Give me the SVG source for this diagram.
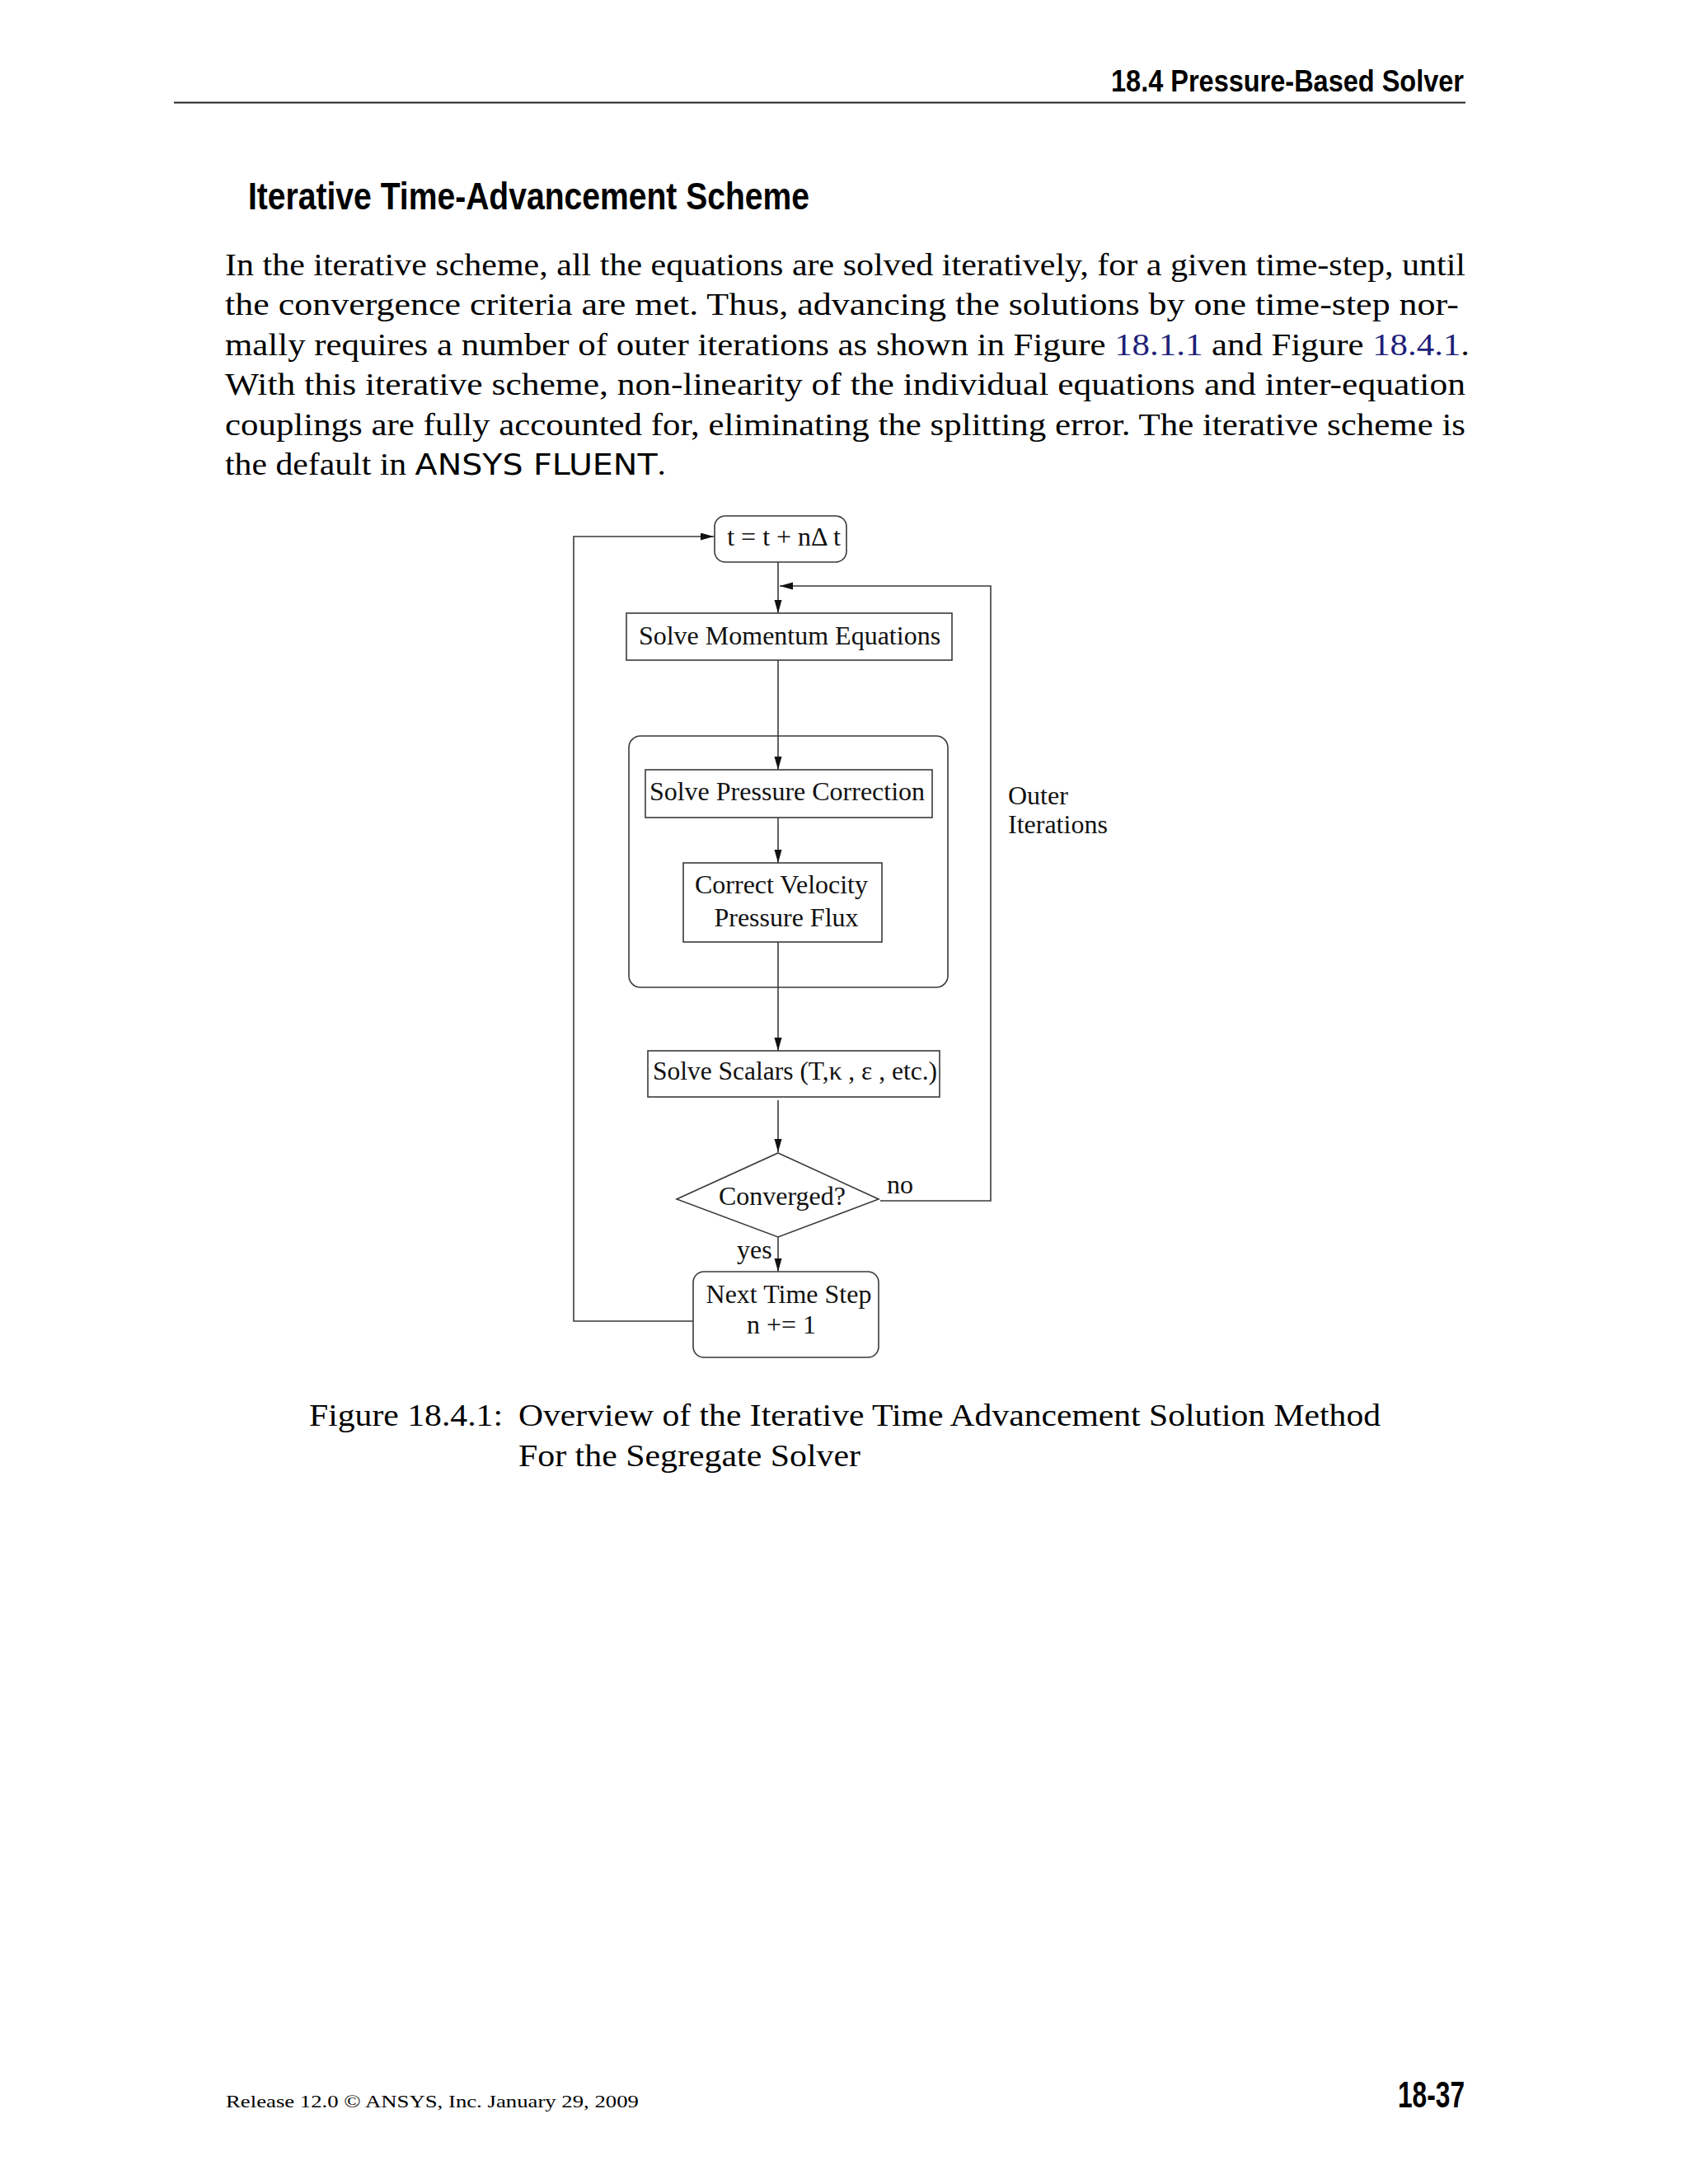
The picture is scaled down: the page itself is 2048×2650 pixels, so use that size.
<svg xmlns="http://www.w3.org/2000/svg" width="2048" height="2650" viewBox="0 0 2048 2650">
<style>
.bg{fill:#ffffff}
.hdr{font-family:"Liberation Sans",Arial,sans-serif;font-weight:bold;fill:#000}
.body{font-family:"Liberation Serif","Times New Roman",serif;font-size:38px;fill:#000}
.sans{font-family:"DejaVu Sans","Liberation Sans",sans-serif}
.link{fill:#1f1f7a}
.lbl{font-family:"Liberation Serif","Times New Roman",serif;font-size:32px;fill:#111}
.box{fill:#ffffff;stroke:#3a3a3a;stroke-width:1.6}
.grp{fill:none;stroke:#3a3a3a;stroke-width:1.6}
.edge{fill:none;stroke:#3a3a3a;stroke-width:1.6}
</style>
<defs>
<marker id="ah" markerUnits="userSpaceOnUse" markerWidth="18" markerHeight="10" refX="16" refY="4.5" orient="auto">
<path d="M0,0 L16,4.5 L0,9 z" fill="#111"/>
</marker>
</defs>
<rect class="bg" x="0" y="0" width="2048" height="2650"/>

<g id="page-header">
<text class="hdr" x="1348" y="111" font-size="37" textLength="428" lengthAdjust="spacingAndGlyphs">18.4 Pressure-Based Solver</text>
<line x1="211" y1="124.5" x2="1778" y2="124.5" stroke="#222" stroke-width="2.2"/>
</g>

<g id="section-title">
<text class="hdr" x="301" y="254" font-size="46" textLength="681" lengthAdjust="spacingAndGlyphs">Iterative Time-Advancement Scheme</text>
</g>

<g id="paragraph">
<text class="body" x="273" y="334" textLength="1505" lengthAdjust="spacingAndGlyphs">In the iterative scheme, all the equations are solved iteratively, for a given time-step, until</text>
<text class="body" x="273" y="382" textLength="1497" lengthAdjust="spacingAndGlyphs">the convergence criteria are met.  Thus, advancing the solutions by one time-step nor-</text>
<text class="body" x="273" y="431" textLength="1510" lengthAdjust="spacingAndGlyphs">mally requires a number of outer iterations as shown in Figure <tspan class="link">18.1.1</tspan> and Figure <tspan class="link">18.4.1</tspan>.</text>
<text class="body" x="273" y="479" textLength="1505" lengthAdjust="spacingAndGlyphs">With this iterative scheme, non-linearity of the individual equations and inter-equation</text>
<text class="body" x="273" y="528" textLength="1505" lengthAdjust="spacingAndGlyphs">couplings are fully accounted for, eliminating the splitting error.  The iterative scheme is</text>
<text class="body" x="273" y="576" textLength="535" lengthAdjust="spacingAndGlyphs">the default in <tspan class="sans" font-size="36">ANSYS FLUENT</tspan>.</text>
</g>

<g id="connectors">
<line class="edge" x1="944" y1="682" x2="944" y2="744" marker-end="url(#ah)"/>
<line class="edge" x1="944" y1="801" x2="944" y2="934" marker-end="url(#ah)"/>
<line class="edge" x1="944" y1="992" x2="944" y2="1047" marker-end="url(#ah)"/>
<line class="edge" x1="944" y1="1143" x2="944" y2="1275" marker-end="url(#ah)"/>
<line class="edge" x1="944" y1="1335" x2="944" y2="1398" marker-end="url(#ah)"/>
<line class="edge" x1="944" y1="1501" x2="944" y2="1543" marker-end="url(#ah)"/>
<path class="edge" d="M1068,1457 H1202 V711 H946" marker-end="url(#ah)"/>
<path class="edge" d="M841,1603 H696 V651 H866" marker-end="url(#ah)"/>
</g>

<g id="node-time">
<rect class="box" x="867" y="626" width="160" height="56" rx="13"/>
<text class="lbl" x="951" y="662" text-anchor="middle">t = t + nΔ t</text>
</g>

<g id="node-momentum">
<rect class="box" x="760" y="744" width="395" height="57"/>
<text class="lbl" x="958" y="782" text-anchor="middle">Solve Momentum Equations</text>
</g>

<g id="group-pressure">
<rect class="grp" x="763" y="893" width="387" height="305" rx="14"/>
</g>

<g id="node-pressure-correction">
<rect class="box" x="783" y="934" width="348" height="58"/>
<text class="lbl" x="955" y="971" text-anchor="middle">Solve Pressure Correction</text>
</g>

<g id="node-correct-velocity">
<rect class="box" x="829" y="1047" width="241" height="96"/>
<text class="lbl" x="948" y="1084" text-anchor="middle">Correct Velocity</text>
<text class="lbl" x="954" y="1124" text-anchor="middle">Pressure Flux</text>
</g>

<g id="node-scalars">
<rect class="box" x="786" y="1275" width="354" height="56"/>
<text class="lbl" x="792" y="1310" textLength="345" lengthAdjust="spacingAndGlyphs">Solve Scalars (T,κ , ε , etc.)</text>
</g>

<g id="node-converged">
<polygon class="box" points="944,1399 1066,1455 944,1501 821,1455"/>
<text class="lbl" x="949" y="1462" text-anchor="middle">Converged?</text>
</g>

<g id="node-next-step">
<rect class="box" x="841" y="1543" width="225" height="104" rx="13"/>
<text class="lbl" x="957" y="1581" text-anchor="middle">Next Time Step</text>
<text class="lbl" x="948" y="1618" text-anchor="middle">n += 1</text>
</g>

<g id="edge-labels">
<text class="lbl" x="1076" y="1448">no</text>
<text class="lbl" x="894" y="1527">yes</text>
<text class="lbl" x="1223" y="976">Outer</text>
<text class="lbl" x="1223" y="1011">Iterations</text>
</g>

<g id="caption">
<text class="body" x="375" y="1730" textLength="235" lengthAdjust="spacingAndGlyphs">Figure 18.4.1:</text>
<text class="body" x="629" y="1730" textLength="1046" lengthAdjust="spacingAndGlyphs">Overview of the Iterative Time Advancement Solution Method</text>
<text class="body" x="629" y="1779" textLength="415" lengthAdjust="spacingAndGlyphs">For the Segregate Solver</text>
</g>

<g id="footer">
<text x="274" y="2557" font-family="Liberation Serif, Times New Roman, serif" font-size="21" textLength="501" lengthAdjust="spacingAndGlyphs">Release 12.0 © ANSYS, Inc. January 29, 2009</text>
<text class="hdr" x="1696" y="2557" font-size="44" textLength="81" lengthAdjust="spacingAndGlyphs">18-37</text>
</g>
</svg>
